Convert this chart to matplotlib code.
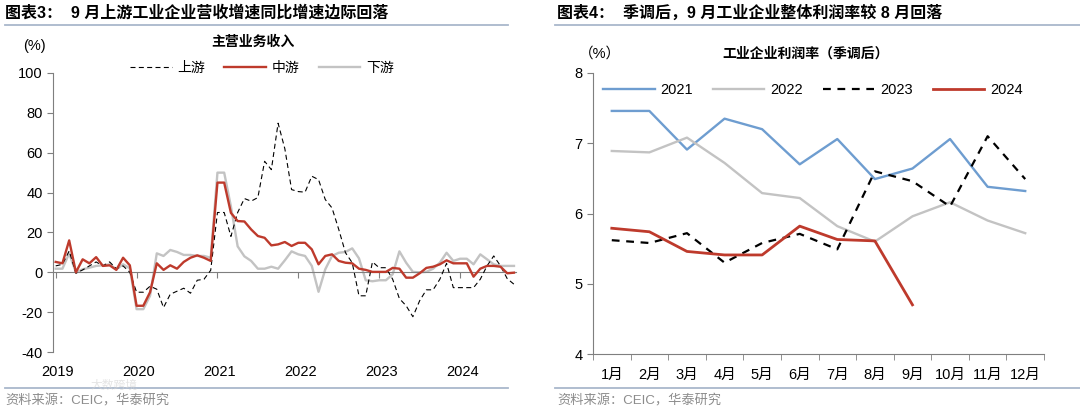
import matplotlib
matplotlib.use('Agg')
import matplotlib.pyplot as plt
import numpy as np
from matplotlib.lines import Line2D
from matplotlib.transforms import blended_transform_factory

plt.rcParams['font.family'] = ['Liberation Sans', 'Noto Sans CJK SC']
plt.rcParams['axes.unicode_minus'] = False

# ---- left chart: revenue growth yoy, monthly 2019-01 .. 2024-09
years = ['2019', '2020', '2021', '2022', '2023', '2024']
upstream = [3.2, 4, 10.7, -0.5, 1.2, 3.2, 5.2, 3.2, 5.2, 1.8, 3.2, 0,
            -10, -10, -7, -8.5, -17.7, -11, -9.5, -8, -10.5, -4, -3.5, 1,
            30, 30, 18, 30, 37, 35.7, 37.5, 55.7, 51.5, 74.8, 62, 41.5,
            40.5, 40.2, 48.2, 46.5, 36.5, 32.3, 21.5, 9.8, 4.8, -11.8, -11.8, 5.2,
            2.3, 2.3, -3.5, -13.2, -16.8, -22.3, -14.3, -8.8, -8.8, -3.5, 4.5, -7.7,
            -7.7, -7.7, -7.7, -3.5, 3.2, 8.2, 3.2, -3.2, -6]
midstream = [5.2, 4.5, 16, 0, 6.5, 4.5, 7.6, 3.2, 3.5, 1.2, 7.3, 3.5,
             -16.8, -16.8, -10, 4.5, 1.2, 3.5, 1.8, 5.2, 7.3, 8.5, 7.3, 5.7,
             45, 45, 29.8, 25.7, 25.5, 21.5, 18.2, 17.3, 13.5, 14, 15.2, 13.2,
             14.8, 14.8, 11.5, 4, 8.2, 9, 5.7, 4.8, 4.5, 1.8, 1.2, 0.2,
             0.2, 0.2, 2.2, 1.8, -2.7, -2.7, -0.5, 2.2, 2.8, 4, 6, 4.5,
             4.5, 4.5, -2.2, 1.8, 3.2, 3.2, 2.8, -0.5, -0.2]
downstream = [1.8, 1.8, 9.5, 0, 1.5, 2.3, 3.2, 3.5, 4, 1.5, 4, 2,
              -18.5, -18.5, -11.8, 9.5, 8.2, 11.2, 10.2, 8.7, 8.7, 8.2, 8.2, 7.3,
              50, 50, 33, 13, 8, 5.7, 1.8, 1.8, 2.8, 1.8, 6, 10.5,
              9, 8.2, 3.2, -9.8, 1.5, 8.2, 9.8, 10.2, 12, 7, -4, -4.5,
              -4, -4, -1, 10.5, 4.8, 0.2, 0, 0.2, 1.8, 4.8, 9.8, 5.7,
              6.8, 6.8, 4, 9, 6.5, 4, 3.2, 3.2, 3.2]

# ---- right chart: profit margin (seasonally adjusted)
months = [f'{i}月' for i in range(1, 13)]
m2021 = [7.46, 7.46, 6.91, 7.35, 7.2, 6.7, 7.06, 6.49, 6.64, 7.06, 6.38, 6.32]
m2022 = [6.89, 6.87, 7.08, 6.72, 6.29, 6.22, 5.82, 5.6, 5.96, 6.16, 5.9, 5.72]
m2023 = [5.62, 5.58, 5.72, 5.3, 5.58, 5.71, 5.49, 6.6, 6.46, 6.1, 7.1, 6.49]
m2024 = [5.79, 5.74, 5.46, 5.41, 5.41, 5.82, 5.63, 5.61, 4.7]

RED = '#BE3A2C'
GREY = '#C3C3C3'
BLUE = '#6E9DD0'
AXC = '#7F7F7F'
RULE = '#A9B8CC'

W, H = 1080, 407
fig = plt.figure(figsize=(10.8, 4.07), dpi=100)


def fx(x):
	return x / W


def fy(y):
	return 1 - y / H


def rule(x0, x1, y):
	fig.add_artist(Line2D([fx(x0), fx(x1)], [fy(y), fy(y)], color=RULE, lw=1.3))


# titles, rules, sources
fig.text(fx(5), fy(13), '图表3：  9 月上游工业企业营收增速同比增速边际回落',
		 fontsize=11.5, weight='bold', va='center')
fig.text(fx(557), fy(13), '图表4：  季调后，9 月工业企业整体利润率较 8 月回落',
		 fontsize=11.5, weight='bold', va='center')
rule(5, 508, 25)
rule(555, 1080, 25)
rule(5, 508, 388)
rule(555, 1080, 388)
fig.text(fx(5), fy(401), '资料来源：CEIC，华泰研究', fontsize=9.5, color='#8C8C8C', va='center')
fig.text(fx(557), fy(401), '资料来源：CEIC，华泰研究', fontsize=9.5, color='#8C8C8C', va='center')
fig.text(fx(90), fy(386), '大数跨境', fontsize=8.5, color='#D3D3D3', alpha=0.6, va='center')

# ---- left axes
ax = fig.add_axes([fx(53), fy(352), fx(516) - fx(53), fy(73) - fy(352)])
t = np.arange(len(midstream))
ax.plot(t, downstream, color=GREY, lw=1.7, zorder=2)
ax.plot(t, upstream, color='black', lw=0.8, ls=(0, (4.5, 3)), zorder=3)
ax.plot(t, midstream, color=RED, lw=1.7, zorder=4)

ax.set_xlim(-0.4, 68.3)
ax.set_ylim(-40, 100)
ax.set_yticks(range(-40, 101, 20))
ax.set_xticks([12 * i for i in range(len(years))])
ax.tick_params(axis='x', direction='out', length=4, color=AXC, labelbottom=False)
ax.tick_params(axis='y', direction='out', length=4, color=AXC, labelsize=10.5)
for s in ['top', 'right']:
	ax.spines[s].set_visible(False)
ax.spines['left'].set_color(AXC)
ax.spines['bottom'].set_color(AXC)
ax.spines['bottom'].set_position(('data', 0))
tr = blended_transform_factory(ax.transData, ax.transAxes)
for i, yr in enumerate(years):
	ax.text(12 * i + 0.3, -0.07, yr, transform=tr, ha='center', va='center', fontsize=10.5)

handles = [
	Line2D([], [], color='black', lw=0.8, ls=(0, (4.5, 3))),
	Line2D([], [], color=RED, lw=1.7),
	Line2D([], [], color=GREY, lw=1.7),
]
ax.legend(handles, ['上游', '中游', '下游'], loc='center', bbox_to_anchor=(0.451, 1.018),
		  ncol=3, frameon=False, fontsize=10, handlelength=3, handletextpad=0.4,
		  columnspacing=1.4)
fig.text(fx(253), fy(42), '主营业务收入', ha='center', va='center', fontsize=10, weight='bold')
fig.text(fx(34), fy(46), '(%)', ha='center', va='center', fontsize=10.5)

# ---- right axes
bx = fig.add_axes([fx(593), fy(354), fx(1044) - fx(593), fy(73) - fy(354)])
k = np.arange(1, 13)
bx.plot(k, m2021, color=BLUE, lw=1.7, label='2021')
bx.plot(k, m2022, color=GREY, lw=1.7, label='2022')
bx.plot(k, m2023, color='black', lw=1.6, ls=(0, (3.5, 3)), label='2023')
bx.plot(k[:len(m2024)], m2024, color=RED, lw=2.0, label='2024')

bx.set_xlim(0.5, 12.5)
bx.set_ylim(4, 8)
bx.set_yticks(range(4, 9))
bx.set_xticks(k)
bx.set_xticklabels(months)
bx.set_xticks(np.arange(0.5, 12.6, 1), minor=True)
bx.tick_params(axis='x', which='major', length=0, pad=10, labelsize=10.5)
bx.tick_params(axis='x', which='minor', direction='out', length=4, color=AXC)
bx.tick_params(axis='y', direction='out', length=4, color=AXC, labelsize=10.5)
for s in ['top', 'right']:
	bx.spines[s].set_visible(False)
bx.spines['left'].set_color(AXC)
bx.spines['bottom'].set_color(AXC)
bx.legend(loc='center', bbox_to_anchor=(0.488, 0.94), ncol=4, frameon=False,
		  fontsize=10.5, handlelength=3.5, handletextpad=0.4, columnspacing=1.4)
fig.text(fx(806), fy(54), '工业企业利润率（季调后）', ha='center', va='center',
		 fontsize=10, weight='bold')
fig.text(fx(600), fy(54), '（%）', ha='center', va='center', fontsize=10.5)

fig.savefig('out.png', dpi=100)
